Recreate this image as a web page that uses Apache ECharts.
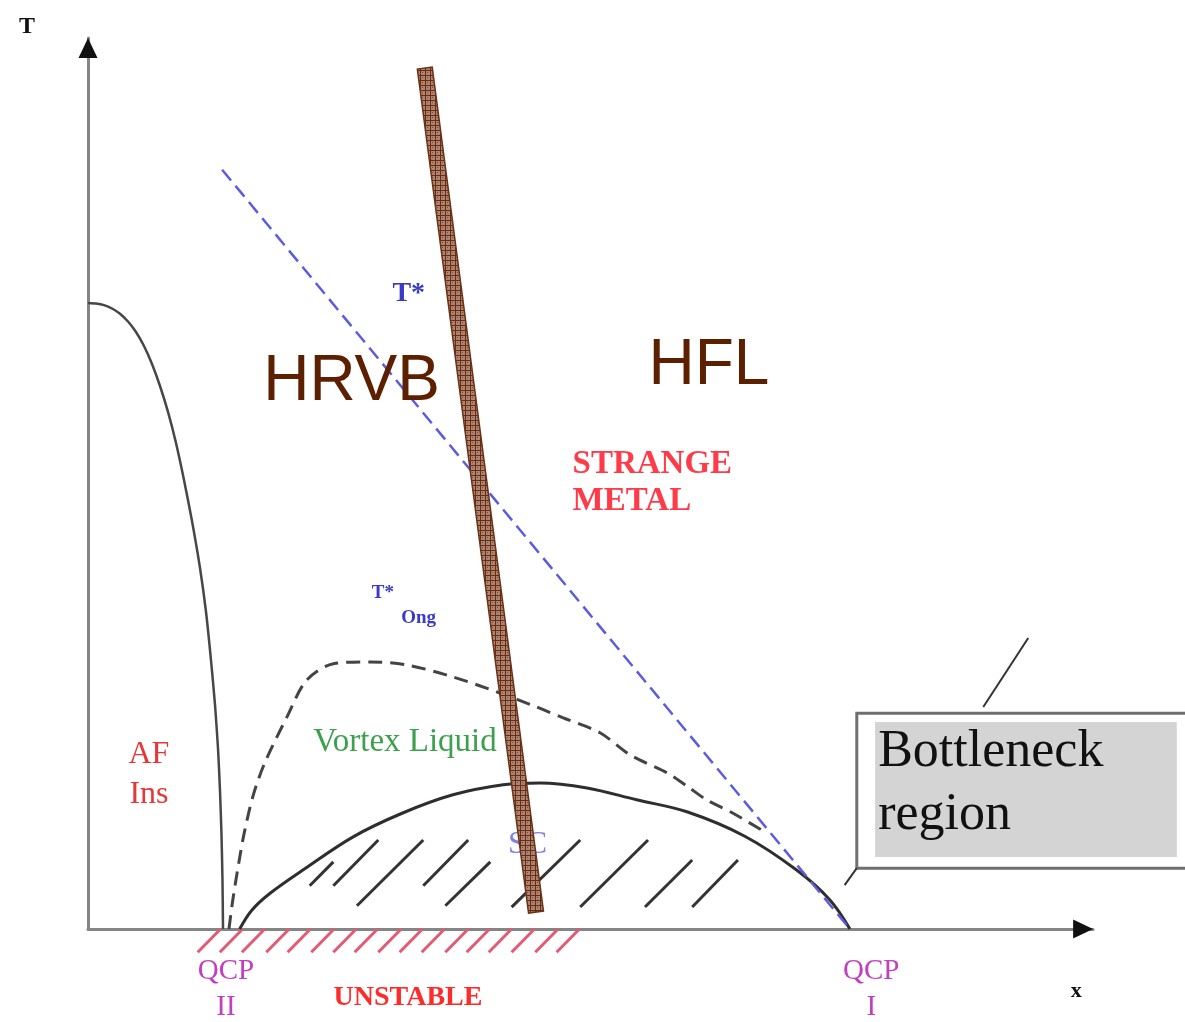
<!DOCTYPE html>
<html><head><meta charset="utf-8">
<script src="https://cdn.jsdelivr.net/npm/echarts@6/dist/echarts.min.js"></script>
<style>html,body{margin:0;padding:0;background:#fff}#c{width:1185px;height:1022px}</style>
</head><body><div id="c"></div>
<script>
// ---- Schematic phase diagram data (x: doping units, T: temperature units) ----
// Antiferromagnetic insulator boundary
const afX = [0, 1.05, 2.10, 3.15, 4.20, 5.25, 6.30, 7.35, 8.40, 9.45, 10.50, 11.55, 12.60, 13.65, 14.70, 15.49, 16.14, 16.67, 17.06, 17.32, 17.52, 17.65, 17.72];
const afT = [99.84, 99.74, 99.49, 98.96, 98.12, 96.89, 95.22, 92.98, 90.11, 86.60, 82.46, 77.51, 71.61, 65.07, 57.58, 50.56, 42.90, 35.73, 28.87, 22.17, 14.99, 7.81, 0];
// T* pseudogap line (blue dashed)
const tStarX = [17.6, 100];
const tStarT = [121.1, 0];
// T*Ong / vortex-liquid boundary (black dashed)
const vlX = [18.5, 19.0, 19.7, 20.5, 21.7, 23.2, 26.1, 28.7, 32.2, 37.0, 41.9, 47.9, 53.7, 58.9, 62.3, 67.2, 71.1, 76.0, 78.6, 81.2, 84.6, 88.8];
const vlT = [0, 4.6, 9.9, 15.3, 21.4, 26.5, 33.8, 39.7, 42.3, 42.6, 42.1, 40.2, 37.8, 35.4, 33.7, 31.3, 27.8, 24.9, 22.8, 20.6, 18.5, 15.5];
// Superconducting dome (solid)
const scX = [19.9, 21.5, 23.9, 28.2, 34.8, 41.3, 47.9, 54.5, 59.3, 65.5, 72.0, 78.6, 86.2, 93.0, 97.4, 100];
const scT = [0, 3.0, 5.7, 9.4, 14.7, 18.5, 21.4, 23.0, 23.3, 22.5, 20.6, 18.7, 14.8, 9.4, 4.6, 0];
// Hatch strokes inside SC dome: [x1, T1, x2, T2]
const scHatch = [
  [29.1, 6.9, 32.2, 10.7],
  [32.2, 6.9, 38.1, 14.2],
  [35.3, 3.7, 44.0, 14.2],
  [44.0, 6.9, 49.9, 14.2],
  [46.9, 3.7, 52.8, 10.7],
  [55.6, 3.5, 64.6, 14.2],
  [64.6, 3.5, 73.5, 14.2],
  [73.1, 3.5, 79.3, 11.0],
  [79.3, 3.5, 85.3, 11.0]
];
// Unstable-region red hatch under the x axis (stroke foot positions)
const unstableFeet = [14.4, 17.3, 20.2, 23.4, 26.2, 29.3, 32.2, 35.0, 38.1, 40.9, 43.8, 46.9, 49.7, 52.6, 55.6, 58.7, 61.5];
// HRVB / HFL divider bar (centre line)
const barX = [44.2, 58.8];
const barT = [137.3, 2.7];
// Bottleneck box (x0, x1, T0, T1) and pointer lines
const boxOuter = [100.9, 144.6, 9.7, 34.4];
const boxInner = [103.3, 142.9, 11.5, 33.0];
const pointers = [[117.5, 35.4, 123.4, 46.4], [100.9, 9.7, 99.3, 7.0]];
// Text labels
const labelText = ['T', 'x', 'T*', 'HRVB', 'HFL', 'STRANGE\nMETAL', 'T*', 'Ong', 'Vortex Liquid', 'AF\nIns', 'SC', 'QCP\nII', 'QCP\nI', 'UNSTABLE', 'Bottleneck', 'region'];
const labelX = [-8.0, 129.7, 42.1, 34.6, 81.5, 63.6, 38.7, 43.4, 41.6, 8.0, 57.7, 18.1, 102.8, 42.0, 103.7, 103.7];
const labelT = [143.9, -10.0, 101.3, 87.2, 89.8, 71.1, 53.6, 49.6, 29.7, 24.6, 13.4, -9.6, -9.6, -11.0, 28.1, 18.1];
// Axis extents
const xMax = 131.9, tMax = 142.1;
const arrowPts = [[0, 140.5, 0], [130.6, 0, -90]];

// ---- styles ----
const SERIF = '"Liberation Serif", "DejaVu Serif", serif';
const SANS = '"Liberation Sans", Arial, sans-serif';
const labelStyle = [
  {fontFamily: SERIF, fontWeight: 'bold', fontSize: 24, color: '#111'},
  {fontFamily: SERIF, fontWeight: 'bold', fontSize: 22, color: '#111'},
  {fontFamily: SERIF, fontWeight: 'bold', fontSize: 28, color: '#3a3ac8'},
  {fontFamily: SANS, fontSize: 64, color: '#5c1f00'},
  {fontFamily: SANS, fontSize: 64, color: '#5c1f00'},
  {fontFamily: SERIF, fontWeight: 'bold', fontSize: 33, color: '#ff3b4a', align: 'left', lineHeight: 37},
  {fontFamily: SERIF, fontWeight: 'bold', fontSize: 19, color: '#3a3ac8'},
  {fontFamily: SERIF, fontWeight: 'bold', fontSize: 19, color: '#3a3ac8'},
  {fontFamily: SERIF, fontSize: 33, color: '#3da04e'},
  {fontFamily: SERIF, fontSize: 32, color: '#e83535', lineHeight: 40},
  {fontFamily: SERIF, fontSize: 32, color: '#7f7fe6'},
  {fontFamily: SERIF, fontSize: 29, color: '#c040c0', lineHeight: 36},
  {fontFamily: SERIF, fontSize: 29, color: '#c040c0', lineHeight: 36},
  {fontFamily: SERIF, fontWeight: 'bold', fontSize: 28, color: '#ff2a2a'},
  {fontFamily: SERIF, fontSize: 52, color: '#111', align: 'left'},
  {fontFamily: SERIF, fontSize: 52, color: '#111', align: 'left'}
];

const zip = (a, b) => a.map((v, i) => [v, b[i]]);

// texture for the divider bar
const tex = document.createElement('canvas');
tex.width = 5; tex.height = 5;
(function () {
  const c = tex.getContext('2d');
  c.fillStyle = '#a98674'; c.fillRect(0, 0, 5, 5);
  c.fillStyle = '#6e2a10'; c.fillRect(0, 0, 5, 1); c.fillRect(0, 0, 1, 5);
  c.fillStyle = '#7e4a34'; c.fillRect(2, 2, 1, 1);
})();

const chart = echarts.init(document.getElementById('c'), null, {renderer: 'canvas'});

const labelData = labelText.map((t, i) => ({
  value: [labelX[i], labelT[i]],
  name: t,
  label: Object.assign({show: true, position: [0, 0], align: 'center', verticalAlign: 'middle', formatter: '{b}'}, labelStyle[i])
}));

const option = {
  animation: false,
  backgroundColor: '#fff',
  grid: {left: 88, right: 92, top: 38, bottom: 93},
  xAxis: {type: 'value', min: 0, max: xMax, splitLine: {show: false}, axisTick: {show: false}, axisLabel: {show: false},
    axisLine: {show: true, onZero: false, lineStyle: {color: '#858585', width: 3}}},
  yAxis: {type: 'value', min: 0, max: tMax, splitLine: {show: false}, axisTick: {show: false}, axisLabel: {show: false},
    axisLine: {show: true, onZero: false, lineStyle: {color: '#858585', width: 3}}},
  series: [
    // Bottleneck box
    {
      type: 'custom', clip: false, silent: true, z: 1, data: [0],
      renderItem: function (params, api) {
        const o0 = api.coord([boxOuter[0], boxOuter[3]]), o1 = api.coord([boxOuter[1], boxOuter[2]]);
        const i0 = api.coord([boxInner[0], boxInner[3]]), i1 = api.coord([boxInner[1], boxInner[2]]);
        return {type: 'group', children: [
          {type: 'rect', shape: {x: o0[0], y: o0[1], width: o1[0] - o0[0], height: o1[1] - o0[1]}, style: {fill: '#fff', stroke: '#6f6f6f', lineWidth: 3}},
          {type: 'rect', shape: {x: i0[0], y: i0[1], width: i1[0] - i0[0], height: i1[1] - i0[1]}, style: {fill: '#d4d4d4'}}
        ]};
      }
    },
    {type: 'lines', coordinateSystem: 'cartesian2d', silent: true, clip: false, z: 2,
      lineStyle: {color: '#333', width: 2, opacity: 1},
      data: pointers.map(p => ({coords: [[p[0], p[1]], [p[2], p[3]]]}))},
    // Unstable hatch
    {type: 'lines', coordinateSystem: 'cartesian2d', silent: true, clip: false, z: 2,
      lineStyle: {color: '#e25a74', width: 3, opacity: 1},
      data: unstableFeet.map(x => ({coords: [[x, -3.7], [x + 3.0, 0]]}))},
    // SC hatch
    {type: 'lines', coordinateSystem: 'cartesian2d', silent: true, clip: false, z: 2,
      lineStyle: {color: '#333', width: 3, opacity: 1},
      data: scHatch.map(h => ({coords: [[h[0], h[1]], [h[2], h[3]]]}))},
    // AF boundary
    {type: 'line', data: zip(afX, afT), smooth: 0.2, symbol: 'none', clip: false, z: 3,
      lineStyle: {color: '#474747', width: 2.5}},
    // SC dome
    {type: 'line', data: zip(scX, scT), smooth: 0.35, symbol: 'none', clip: false, z: 3,
      lineStyle: {color: '#2e2e2e', width: 3}},
    // vortex liquid dashed
    {type: 'line', data: zip(vlX, vlT), smooth: 0.3, symbol: 'none', clip: false, z: 3,
      lineStyle: {color: '#444', width: 3, type: [14, 8]}},
    // T* dashed
    {type: 'line', data: zip(tStarX, tStarT), symbol: 'none', clip: false, z: 3,
      lineStyle: {color: '#5c5ce0', width: 2.5, type: [14, 7]}},
    // Arrowheads
    {type: 'scatter', clip: false, silent: true, z: 4, symbol: 'triangle', symbolSize: [19, 20],
      itemStyle: {color: '#111', opacity: 1},
      data: arrowPts.map(a => ({value: [a[0], a[1]], symbolRotate: a[2]}))},
    // Text labels
    {type: 'scatter', clip: false, silent: true, z: 5, symbolSize: 0, itemStyle: {color: 'rgba(0,0,0,0)', opacity: 1},
      labelLayout: {hideOverlap: false}, data: labelData},
    // HRVB/HFL divider bar (textured polygon around its centre line)
    {
      type: 'custom', clip: false, silent: true, z: 6, data: [0],
      renderItem: function (params, api) {
        const a = api.coord([barX[0], barT[0]]), b = api.coord([barX[1], barT[1]]);
        const dx = b[0] - a[0], dy = b[1] - a[1], len = Math.hypot(dx, dy);
        const hw = 7.5, nx = -dy / len * hw, ny = dx / len * hw;
        return {type: 'polygon', shape: {points: [
          [a[0] + nx, a[1] + ny], [b[0] + nx, b[1] + ny], [b[0] - nx, b[1] - ny], [a[0] - nx, a[1] - ny]
        ]}, style: {fill: {image: tex, repeat: 'repeat'}, stroke: '#6b3218', lineWidth: 1.5}};
      }
    }
  ]
};
chart.setOption(option);
</script>
</body></html>
